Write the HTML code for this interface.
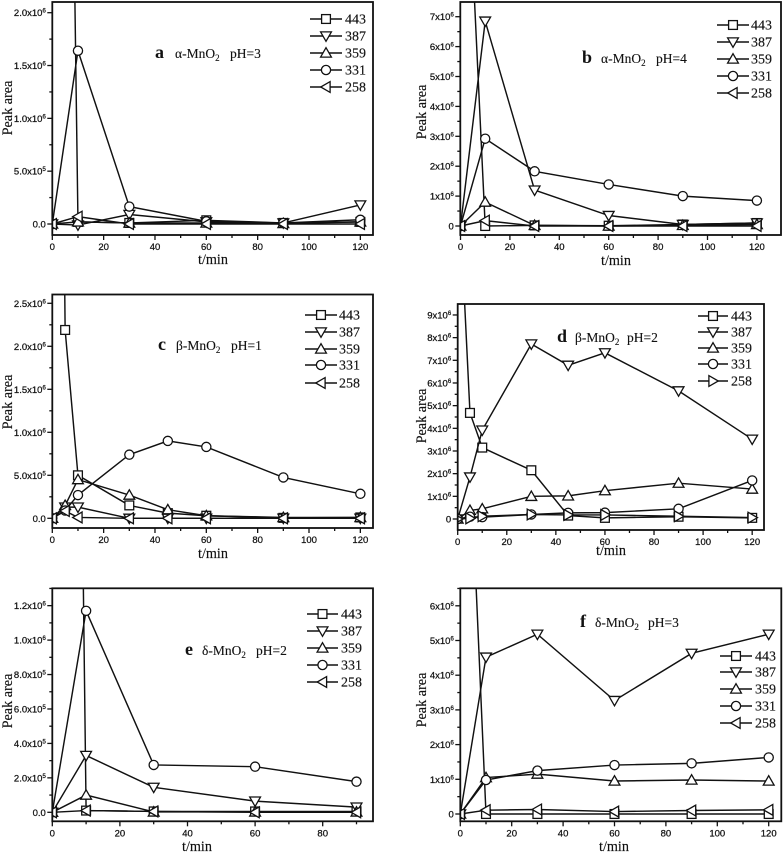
<!DOCTYPE html>
<html lang="en">
<head>
<meta charset="utf-8">
<title>Peak area versus time for MnO2 samples</title>
<style>
html,body{margin:0;padding:0;background:#fff;}
#chart{display:block;width:784px;height:854px;filter:blur(0.35px);}
text{fill:#111;}
.tick-label{font-family:"Liberation Sans",sans-serif;font-size:9.5px;stroke:#111;stroke-width:.25px;}
.legend-text{font-family:"Liberation Serif",serif;font-size:14px;stroke:#111;stroke-width:.15px;}
.axis-title{font-family:"Liberation Serif",serif;font-size:14.2px;stroke:#111;stroke-width:.15px;}
.note{font-family:"Liberation Serif",serif;font-size:13.5px;stroke:#111;stroke-width:.12px;}
.letter{font-family:"Liberation Serif",serif;font-size:18px;font-weight:bold;}
</style>
</head>
<body>
<svg id="chart" xmlns="http://www.w3.org/2000/svg" width="784" height="854" viewBox="0 0 784 854"></svg>
<script>
// ---- data (values in units of 1e6 peak area) ----
const seriesNames = ['443', '387', '359', '331', '258'];

const timesA = [0, 10, 30, 60, 90, 120];
const a443 = [17.5, 0.02, 0.01, 0.035, 0.01, 0.02];
const a387 = [0, -0.01, 0.09, 0.02, 0.01, 0.18];
const a359 = [0, 0.02, 0.01, 0.01, 0.005, 0.02];
const a331 = [0, 1.64, 0.165, 0.025, 0.01, 0.04];
const a258 = [0, 0.07, 0, 0, 0, 0];
const yTicksA = [0, 0.5, 1, 1.5, 2];
const yLabelsA = [['0.0', ''], ['5.0x10', '5'], ['1.0x10', '6'], ['1.5x10', '6'], ['2.0x10', '6']];

const timesB = [0, 10, 30, 60, 90, 120];
const b443 = [17.4, 0, 0.02, 0.01, 0.05, 0.1];
const b387 = [0, 6.85, 1.2, 0.35, 0.05, 0.1];
const b359 = [0, 0.8, 0.02, 0, 0.02, 0.05];
const b331 = [0, 2.92, 1.83, 1.39, 1.0, 0.85];
const b258 = [0, 0.18, 0, 0, 0, 0];
const yTicksB = [0, 1, 2, 3, 4, 5, 6, 7];
const yLabelsB = [['0', ''], ['1x10', '6'], ['2x10', '6'], ['3x10', '6'], ['4x10', '6'], ['5x10', '6'], ['6x10', '6'], ['7x10', '6']];

const timesC = [0, 5, 10, 30, 45, 60, 90, 120];
const c443 = [17, 2.19, 0.5, 0.15, 0.06, 0.03, 0.005, 0.01];
const c387 = [0, 0.13, 0.13, 0, 0, 0, 0, 0];
const c359 = [0, 0.15, 0.45, 0.27, 0.1, 0.03, 0.01, 0.01];
const c331 = [0, 0.09, 0.27, 0.74, 0.9, 0.83, 0.475, 0.285];
const c258 = [0, 0.085, 0.01, 0, 0, 0, 0, 0];
const yTicksC = [0, 0.5, 1, 1.5, 2, 2.5];
const yLabelsC = [['0.0', ''], ['5.0x10', '5'], ['1.0x10', '6'], ['1.5x10', '6'], ['2.0x10', '6'], ['2.5x10', '6']];

const timesD = [0, 5, 10, 30, 45, 60, 90, 120];
const d443 = [15.8, 4.68, 3.15, 2.15, 0.15, 0.05, 0.1, 0.05];
const d387 = [0, 1.85, 3.92, 7.72, 6.78, 7.33, 5.65, 3.52];
const d359 = [0, 0.38, 0.45, 1.0, 1.02, 1.25, 1.58, 1.32];
const d331 = [0, 0.1, 0.08, 0.2, 0.27, 0.28, 0.45, 1.7];
const d258 = [0, 0.03, 0.12, 0.2, 0.18, 0.18, 0.12, 0.06];
const yTicksD = [0, 1, 2, 3, 4, 5, 6, 7, 8, 9];
const yLabelsD = [['0', ''], ['1x10', '6'], ['2x10', '6'], ['3x10', '6'], ['4x10', '6'], ['5x10', '6'], ['6x10', '6'], ['7x10', '6'], ['8x10', '6'], ['9x10', '6']];

const timesE = [0, 10, 30, 60, 90];
const e443 = [16, 0.01, 0.005, 0.005, 0.005];
const e387 = [0, 0.33, 0.145, 0.065, 0.03];
const e359 = [0, 0.1, 0.002, 0.002, 0.002];
const e331 = [0, 1.17, 0.275, 0.265, 0.178];
const e258 = [0, 0.01, 0.005, 0, 0];
const yTicksE = [0, 0.2, 0.4, 0.6, 0.8, 1, 1.2];
const yLabelsE = [['0.0', ''], ['2.0x10', '5'], ['4.0x10', '5'], ['6.0x10', '5'], ['8.0x10', '5'], ['1.0x10', '6'], ['1.2x10', '6']];

const timesF = [0, 10, 30, 60, 90, 120];
const f443 = [17, 0, 0, 0, 0, 0];
const f387 = [0, 4.52, 5.18, 3.27, 4.63, 5.18];
const f359 = [0, 1.05, 1.15, 0.95, 0.98, 0.95];
const f331 = [0, 0.98, 1.25, 1.41, 1.46, 1.63];
const f258 = [0, 0.11, 0.13, 0.07, 0.1, 0.12];
const yTicksF = [0, 1, 2, 3, 4, 5, 6];
const yLabelsF = [['0', ''], ['1x10', '6'], ['2x10', '6'], ['3x10', '6'], ['4x10', '6'], ['5x10', '6'], ['6x10', '6']];

const xTicks90 = [0, 20, 40, 60, 80];
const xTicks120 = [0, 20, 40, 60, 80, 100, 120];

// ---- layout (pixel geometry of each panel) ----
function layouts() {
  return [
    {id:'a', left:52.3, right:373, top:2, bottom:235, x0:52.3, xK:2.567, y0:224, yK:105.65,
     times:timesA, series:[a443,a387,a359,a331,a258], yTicks:yTicksA, yLabels:yLabelsA, xTicks:xTicks120, lastMarker:'left',
     legend:{x1:310,x2:342,tx:345,ys:[19,36,53,70,87]}, letter:{t:'a',x:155,y:58}, note:{t:'α-MnO',ph:'pH=3',x:175,y:58,phx:230},
     yTitle:{x:12,y:108}, xTitle:{x:213,y:264}},
    {id:'b', left:460.3, right:781, top:2, bottom:235, x0:460.5, xK:2.47, y0:226, yK:29.9,
     times:timesB, series:[b443,b387,b359,b331,b258], yTicks:yTicksB, yLabels:yLabelsB, xTicks:xTicks120, lastMarker:'left',
     legend:{x1:717,x2:749,tx:751,ys:[25,42,59,76,93]}, letter:{t:'b',x:582,y:63}, note:{t:'α-MnO',ph:'pH=4',x:601,y:63,phx:656},
     yTitle:{x:426,y:112}, xTitle:{x:616,y:265}},
    {id:'c', left:52.3, right:373, top:294.5, bottom:528, x0:52.3, xK:2.567, y0:518.3, yK:86,
     times:timesC, series:[c443,c387,c359,c331,c258], yTicks:yTicksC, yLabels:yLabelsC, xTicks:xTicks120, lastMarker:'left',
     legend:{x1:305,x2:337,tx:339,ys:[315,332,349,365,383]}, letter:{t:'c',x:158,y:350}, note:{t:'β-MnO',ph:'pH=1',x:176,y:350,phx:231},
     yTitle:{x:12,y:402}, xTitle:{x:213,y:558}},
    {id:'d', left:457.7, right:764, top:304, bottom:530, x0:457.7, xK:2.454, y0:519, yK:22.67,
     times:timesD, series:[d443,d387,d359,d331,d258], yTicks:yTicksD, yLabels:yLabelsD, xTicks:xTicks120, lastMarker:'right',
     legend:{x1:698,x2:728,tx:731,ys:[316,332,348,364,381]}, letter:{t:'d',x:557,y:342}, note:{t:'β-MnO',ph:'pH=2',x:575,y:342,phx:627},
     yTitle:{x:426,y:416}, xTitle:{x:611,y:555}},
    {id:'e', left:52.3, right:373, top:588.3, bottom:821.3, x0:52.3, xK:3.38, y0:812.3, yK:172.2,
     times:timesE, series:[e443,e387,e359,e331,e258], yTicks:yTicksE, yLabels:yLabelsE, xTicks:xTicks90, lastMarker:'left',
     legend:{x1:307,x2:338,tx:341,ys:[614,631,648,665,682]}, letter:{t:'e',x:185,y:655}, note:{t:'δ-MnO',ph:'pH=2',x:202,y:655,phx:256},
     yTitle:{x:12,y:701}, xTitle:{x:197,y:851}},
    {id:'f', left:460.3, right:781.3, top:588.3, bottom:821.3, x0:460.3, xK:2.57, y0:814, yK:34.7,
     times:timesF, series:[f443,f387,f359,f331,f258], yTicks:yTicksF, yLabels:yLabelsF, xTicks:xTicks120, lastMarker:'left',
     legend:{x1:720,x2:752,tx:755,ys:[656,672,689,706,723]}, letter:{t:'f',x:580,y:627}, note:{t:'δ-MnO',ph:'pH=3',x:595,y:627,phx:648},
     yTitle:{x:426,y:700}, xTitle:{x:614,y:851}}
  ];
}

const NS = 'http://www.w3.org/2000/svg';
const svg = document.getElementById('chart');

function make(tag, attrs, parent) {
  const n = document.createElementNS(NS, tag);
  for (const k in attrs) n.setAttribute(k, attrs[k]);
  parent.appendChild(n);
  return n;
}

function markerShape(kind, cx, cy, parent) {
  const r = 4.6;
  const st = {fill:'#fff', stroke:'#111', 'stroke-width':1.3};
  if (kind === 'circle') return make('circle', Object.assign({cx:cx, cy:cy, r:r}, st), parent);
  if (kind === 'square') return make('rect', Object.assign({x:cx-r+.2, y:cy-r+.2, width:2*r-.4, height:2*r-.4}, st), parent);
  let pts;
  const a = 5.4, b = 4.7;
  if (kind === 'down') pts = [[cx-a,cy-b+.6],[cx+a,cy-b+.6],[cx,cy+b+.6]];
  if (kind === 'up') pts = [[cx-a,cy+b-.6],[cx+a,cy+b-.6],[cx,cy-b-.6]];
  if (kind === 'left') pts = [[cx+b-.6,cy-a],[cx+b-.6,cy+a],[cx-b-.6,cy]];
  if (kind === 'right') pts = [[cx-b+.6,cy-a],[cx-b+.6,cy+a],[cx+b+.6,cy]];
  return make('polygon', Object.assign({points:pts.map(p => p.join(',')).join(' ')}, st), parent);
}

function drawPanel(p) {
  const xs = t => p.x0 + t * p.xK;
  const ys = v => p.y0 - v * p.yK;
  const kinds = ['square', 'down', 'up', 'circle', p.lastMarker];

  const g = make('g', {}, svg);
  
  

  const clip = make('clipPath', {id:'clip-' + p.id}, g);
  make('rect', {x:p.left, y:p.top, width:p.right - p.left, height:p.bottom - p.top}, clip);

  // series
  const plot = make('g', {'clip-path':'url(#clip-' + p.id + ')'}, g);
  
  
  p.series.forEach((vals, si) => {
    const sg = make('g', {}, plot);
    
    
    const line = make('polyline', {
      points: vals.map((v, i) => xs(p.times[i]).toFixed(2) + ',' + ys(v).toFixed(2)).join(' '),
      fill:'none', stroke:'#111', 'stroke-width':1.45
    }, sg);
    
    
    vals.forEach((v, i) => {
      const m = markerShape(kinds[si], xs(p.times[i]), ys(v), sg);
      
      
    });
  });

  // frame
  const frame = make('rect', {x:p.left, y:p.top, width:p.right - p.left, height:p.bottom - p.top, fill:'none', stroke:'#111', 'stroke-width':1.8}, g);
  
  

  // x ticks
  const xg = make('g', {stroke:'#111', 'stroke-width':1.3}, g);
  
  
  const step = p.xTicks[1] - p.xTicks[0];
  p.xTicks.forEach(t => {
    make('line', {x1:xs(t), x2:xs(t), y1:p.bottom, y2:p.bottom + 5}, xg);
    const mx = xs(t + step / 2);
    if (mx < p.right) make('line', {x1:mx, x2:mx, y1:p.bottom, y2:p.bottom + 3}, xg);
    const lab = make('text', {x:xs(t), y:p.bottom + 15, 'text-anchor':'middle', class:'tick-label'}, g);
    
    
    lab.textContent = String(t);
  });

  // y ticks
  const yg = make('g', {stroke:'#111', 'stroke-width':1.3}, g);
  
  
  const yStep = p.yTicks[1] - p.yTicks[0];
  p.yTicks.forEach((v, i) => {
    make('line', {x1:p.left - 5, x2:p.left, y1:ys(v), y2:ys(v)}, yg);
    [v + yStep / 2, v - yStep / 2].forEach(mv => {
      if (i > 0 && mv < v) return;
      if (ys(mv) > p.top && ys(mv) < p.bottom) make('line', {x1:p.left - 3, x2:p.left, y1:ys(mv), y2:ys(mv)}, yg);
    });
    const lab = make('text', {x:p.left - 6.5, y:ys(v) + 3.5, 'text-anchor':'end', class:'tick-label'}, g);
    
    
    const parts = p.yLabels[i];
    const base = make('tspan', {}, lab);
    base.textContent = parts[0];
    if (parts[1]) {
      const sup = make('tspan', {dy:-3.5, 'font-size':'6px'}, lab);
      sup.textContent = parts[1];
    }
  });

  // axis titles
  const yt = make('text', {class:'axis-title', 'text-anchor':'middle', transform:'translate(' + p.yTitle.x + ',' + p.yTitle.y + ') rotate(-90)'}, g);
  
  
  yt.textContent = 'Peak area';
  const xt = make('text', {class:'axis-title', 'text-anchor':'middle', x:p.xTitle.x, y:p.xTitle.y}, g);
  
  
  xt.textContent = 't/min';

  // annotation
  const letter = make('text', {class:'letter', x:p.letter.x, y:p.letter.y}, g);
  
  
  letter.textContent = p.letter.t;
  const note = make('text', {class:'note', x:p.note.x, y:p.note.y}, g);
  
  
  const n1 = make('tspan', {}, note);
  n1.textContent = p.note.t;
  const n2 = make('tspan', {dy:3, 'font-size':'9px'}, note);
  n2.textContent = '2';
  const n3 = make('tspan', {x:p.note.phx, dy:-3}, note);
  n3.textContent = p.note.ph;

  // legend
  const lg = make('g', {}, g);
  
  
  seriesNames.forEach((name, i) => {
    const row = make('g', {}, lg);
    
    
    const y = p.legend.ys[i];
    make('line', {x1:p.legend.x1, x2:p.legend.x2, y1:y, y2:y, stroke:'#111', 'stroke-width':1.4}, row);
    markerShape(kinds[i], (p.legend.x1 + p.legend.x2) / 2, y, row);
    const t = make('text', {class:'legend-text', x:p.legend.tx, y:y + 4.5}, row);
    t.textContent = name;
  });
}

layouts().forEach(drawPanel);
</script>
</body>
</html>
